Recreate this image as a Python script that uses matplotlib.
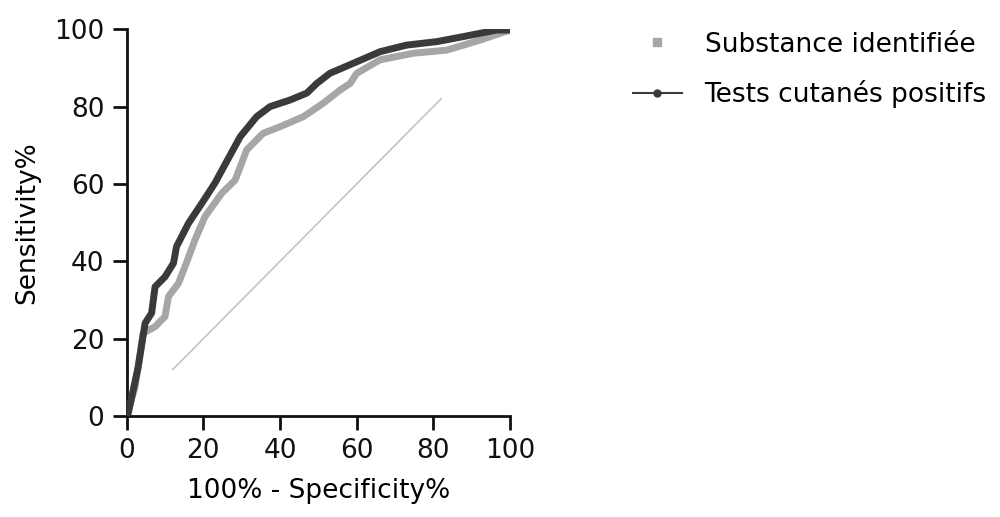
import matplotlib
matplotlib.use('Agg')
import matplotlib.pyplot as plt
from matplotlib.lines import Line2D

plt.rcParams['font.family'] = ['DejaVu Sans']

# ROC curve: 100% - Specificity% vs Sensitivity%
subst_x = [0, 2.2, 4.3, 7.4, 10.0, 10.9, 13.5, 15.2, 17.8, 20.4, 24.8, 28.3,
           31.3, 35.6, 40.0, 46.1, 51.3, 55.7, 58.3, 60.0, 66.1, 74.8, 83.5,
           92.2, 100]
subst_y = [0, 7.6, 21.4, 23.1, 25.7, 30.9, 34.3, 38.6, 45.5, 51.5, 57.6, 61.0,
           68.8, 73.1, 74.8, 77.4, 80.9, 84.3, 86.0, 88.6, 92.1, 93.8, 94.6,
           97.2, 99.8]

tests_x = [0, 0.4, 3.0, 4.8, 6.5, 7.4, 10.0, 12.2, 13.0, 16.1, 19.6, 23.0,
           29.6, 33.9, 37.4, 42.6, 47.0, 49.6, 53.0, 59.1, 66.1, 73.0, 80.9,
           87.8, 96.5, 100]
tests_y = [0, 0.7, 12.7, 24.0, 26.6, 33.4, 36.0, 39.5, 43.8, 49.8, 55.0, 60.2,
           72.2, 77.4, 80.0, 81.7, 83.5, 86.0, 88.6, 91.2, 94.2, 95.9, 96.8,
           98.1, 99.8, 99.8]

ref_x = [12, 82]
ref_y = [12, 82]

labels = ['Substance identifiée', 'Tests cutanés positifs']
ticks = [0, 20, 40, 60, 80, 100]

light = '#a6a6a6'
dark = '#3a3a3a'
fs = 19

fig = plt.figure(figsize=(10, 5.17), dpi=100)
ax = fig.add_axes([0.1267, 0.1954, 0.3833, 0.748])

ax.plot(ref_x, ref_y, color='#c4c4c4', lw=1.2, zorder=1)
ax.plot(subst_x, subst_y, color=light, lw=5, solid_joinstyle='round',
        solid_capstyle='round', zorder=2)
ax.plot(tests_x, tests_y, color=dark, lw=5, solid_joinstyle='round',
        solid_capstyle='round', zorder=3)

ax.set_xlim(0, 100)
ax.set_ylim(0, 100)
ax.set_xticks(ticks)
ax.set_yticks(ticks)
for side in ('top', 'right'):
    ax.spines[side].set_visible(False)
for side in ('left', 'bottom'):
    ax.spines[side].set_linewidth(2)
    ax.spines[side].set_color('#111111')
ax.tick_params(width=2, length=10, labelsize=fs, colors='#111111')
ax.tick_params(axis='x', pad=6)
ax.tick_params(axis='y', pad=6)

ax.set_xlabel('100% - Specificity%', fontsize=fs, labelpad=10)
ax.set_ylabel('Sensitivity%', fontsize=fs, labelpad=10)

handles = [
    Line2D([], [], color=light, lw=0, marker='s', ms=6),
    Line2D([], [], color=dark, lw=1.5, marker='o', ms=5),
]
fig.legend(handles, labels, loc='upper left', bbox_to_anchor=(0.609, 0.985),
           frameon=False, fontsize=fs, handlelength=1.85, handletextpad=0.87,
           labelspacing=0.85)

fig.savefig('out.png', dpi=100)
